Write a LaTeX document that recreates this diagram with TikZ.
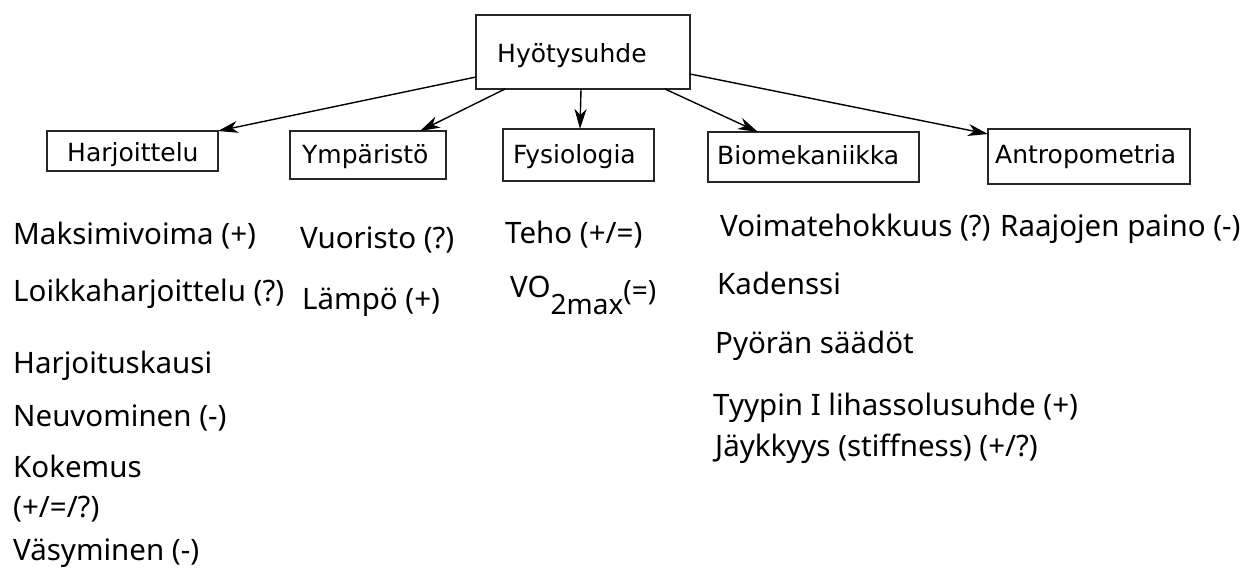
\documentclass[tikz,border=0pt]{standalone}
\usepackage{fontspec}
\setmainfont{Noto Sans}
\newfontfamily\boxfont{DejaVu Sans}
\usetikzlibrary{arrows.meta}
\begin{document}
\begin{tikzpicture}[x=1pt,y=-1pt,
  box/.style={draw=black!85, line width=1.2pt, rectangle, inner sep=0pt, outer sep=0pt},
  blabel/.style={anchor=base west, inner sep=0pt, font=\boxfont\fontsize{25}{25}\selectfont},
  item/.style={anchor=base west, inner sep=0pt, font=\fontsize{29.5}{30}\selectfont},
  conn/.style={line width=1.4pt, -{Stealth[length=20pt,width=12pt,inset=6pt]}}]
\useasboundingbox[fill=white] (0,0) rectangle (1253,570);
% boxes
\node[box, minimum width=214pt, minimum height=74pt] (hyo) at (583,52) {};
\node[box, minimum width=171pt, minimum height=40pt] (har) at (132.5,151) {};
\node[box, minimum width=156pt, minimum height=48pt] (ymp) at (368,155) {};
\node[box, minimum width=151pt, minimum height=52pt] (fys) at (578.5,155) {};
\node[box, minimum width=211pt, minimum height=50pt] (bio) at (813.5,157) {};
\node[box, minimum width=202pt, minimum height=55pt] (ant) at (1089,156.5) {};
% box labels
\node[blabel] (hyoT) at (497,62) {Hyötysuhde};
\node[blabel] (harT) at (67,161) {Harjoittelu};
\node[blabel] (ympT) at (302,163) {Ympäristö};
\node[blabel] (fysT) at (513,163) {Fysiologia};
\node[blabel] (bioT) at (717,164) {Biomekaniikka};
\node[blabel] (antT) at (995,163) {Antropometria};
% connectors
\draw[conn] ([yshift=12pt]hyo.south west) -- (har.north east);
\draw[conn] ([xshift=29pt]hyo.south west) -- ([xshift=-26pt]ymp.north east);
\draw[conn] ([xshift=-2pt]hyo.south) -- ([xshift=1.5pt]fys.north);
\draw[conn] ([xshift=-25pt]hyo.south east) -- ([xshift=50pt]bio.north west);
\draw[conn] ([yshift=15pt]hyo.south east) -- ([yshift=-5pt]ant.north west);
% column 1
\node[item] (c1a) at (13,244) {Maksimivoima (+)};
\node[item] (c1b) at (13,301) {Loikkaharjoittelu (?)};
\node[item] (c1c) at (13,373) {Harjoituskausi};
\node[item] (c1d) at (13,426) {Neuvominen (-)};
\node[item] (c1e) at (13,477) {Kokemus};
\node[item] (c1f) at (13,517) {(+/=/?)};
\node[item] (c1g) at (13,560) {Väsyminen (-)};
% column 2
\node[item] (c2a) at (300,248) {Vuoristo (?)};
\node[item] (c2b) at (302,309) {Lämpö (+)};
% column 3
\node[item] (c3a) at (505,243) {Teho (+/=)};
\node[item] (c3b) at (510,297) {VO\raisebox{-17pt}{\fontsize{28}{28}\selectfont 2max}\raisebox{-3pt}{\fontsize{28}{28}\selectfont (=)}};
% column 4
\node[item] (c4a) at (720,236) {Voimatehokkuus (?)};
\node[item] (c4b) at (717,294) {Kadenssi};
\node[item] (c4c) at (715,353) {Pyörän säädöt};
\node[item] (c4d) at (713,415) {Tyypin I lihassolusuhde (+)};
\node[item] (c4e) at (715,456) {Jäykkyys (stiffness) (+/?)};
% column 5
\node[item] (c5a) at (1000,236) {Raajojen paino (-)};
\end{tikzpicture}
\end{document}
